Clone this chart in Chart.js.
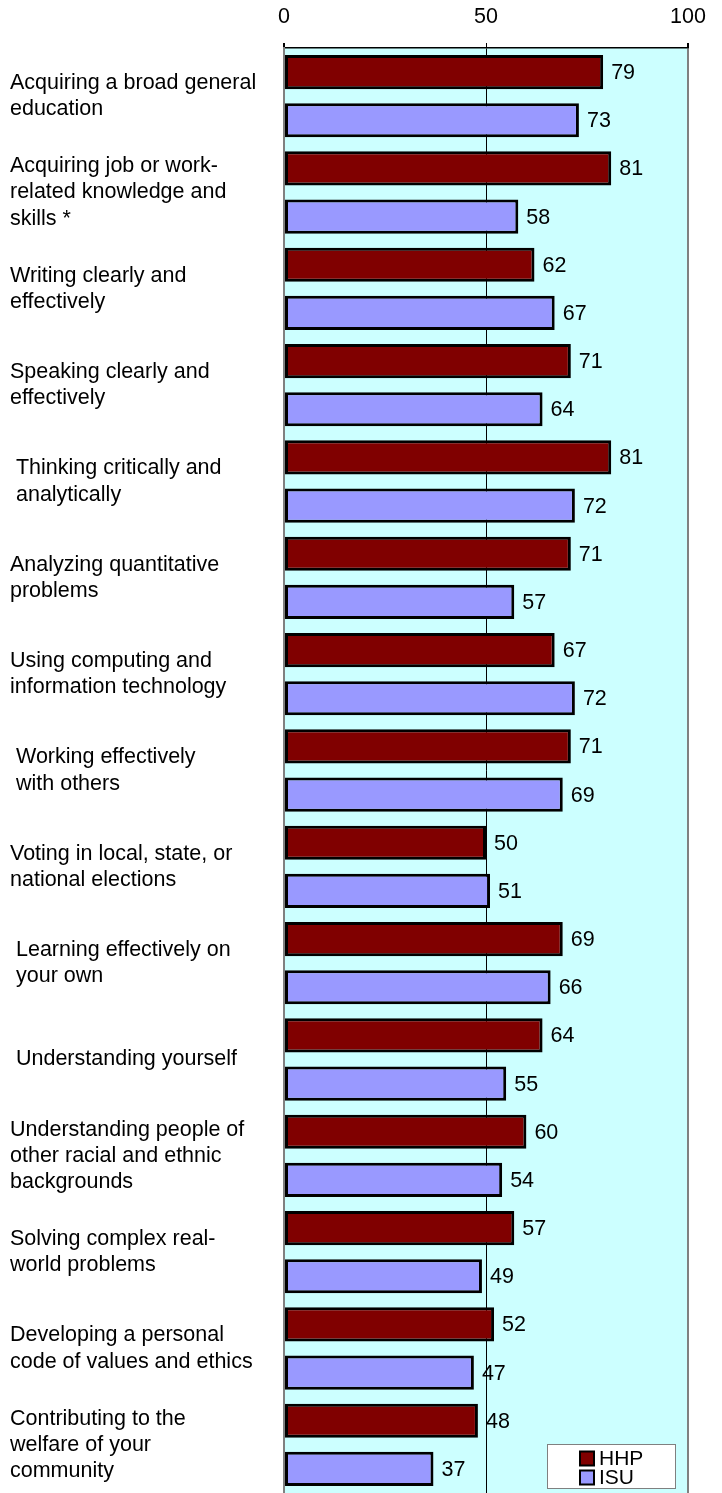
<!DOCTYPE html>
<html>
<head>
<meta charset="utf-8">
<script src="https://cdn.jsdelivr.net/npm/chart.js@4"></script>
<style>
  body { margin: 0; background: #ffffff; }
  #wrap { width: 722px; height: 1493px; position: relative; }
</style>
</head>
<body>
<div id="wrap"><canvas id="outcomes-chart"></canvas></div>
<script>
const categories = [
    ["Acquiring a broad general", "education"],
    ["Acquiring job or work-", "related knowledge and", "skills *"],
    ["Writing clearly and", "effectively"],
    ["Speaking clearly and", "effectively"],
    [" Thinking critically and", " analytically"],
    ["Analyzing quantitative", "problems"],
    ["Using computing and", "information technology"],
    [" Working effectively", " with others"],
    ["Voting in local, state, or", "national elections"],
    [" Learning effectively on", " your own"],
    [" Understanding yourself"],
    ["Understanding people of", "other racial and ethnic", "backgrounds"],
    ["Solving complex real-", "world problems"],
    ["Developing a personal", "code of values and ethics"],
    ["Contributing to the", "welfare of your", "community"]
]
const hhpValues = [79, 81, 62, 71, 81, 71, 67, 71, 50, 69, 64, 60, 57, 52, 48]
const isuValues = [73, 58, 67, 64, 72, 57, 72, 69, 51, 66, 55, 54, 49, 47, 37]
const xTicks = [0, 50, 100]

const fontFamily = "Arial, 'Liberation Sans', sans-serif"
const fontSize = 21.5

// cyan plot background
const plotBackground = {
    id: 'plotBackground',
    beforeDraw(chart) {
        const {ctx, chartArea} = chart
        ctx.save()
        ctx.fillStyle = '#ccffff'
        ctx.fillRect(chartArea.left, chartArea.top, chartArea.right - chartArea.left, chartArea.bottom - chartArea.top)
        ctx.restore()
    }
}

// numbers at the end of each bar
const valueLabels = {
    id: 'valueLabels',
    afterDatasetsDraw(chart) {
        const {ctx} = chart
        ctx.save()
        ctx.font = fontSize + 'px ' + fontFamily
        ctx.fillStyle = '#000000'
        ctx.textAlign = 'left'
        ctx.textBaseline = 'middle'
        chart.data.datasets.forEach((ds, i) => {
            chart.getDatasetMeta(i).data.forEach((bar, j) => {
                ctx.fillText(ds.data[j], bar.x + 8, bar.y + 1)
            })
        })
        ctx.restore()
    }
}

// boxed legend in the lower right corner of the plot
const boxLegend = {
    id: 'boxLegend',
    afterDraw(chart) {
        const {ctx, chartArea} = chart
        const w = 128, h = 44
        const x = chartArea.right - 13 - w
        const y = chartArea.bottom - 5 - h
        ctx.save()
        ctx.fillStyle = '#ffffff'
        ctx.fillRect(x, y, w, h)
        ctx.strokeStyle = '#808080'
        ctx.lineWidth = 1
        ctx.strokeRect(x + 0.5, y + 0.5, w, h)
        ctx.font = '21px ' + fontFamily
        ctx.textBaseline = 'middle'
        chart.data.datasets.forEach((ds, i) => {
            const rowY = y + 14.5 + i * 19
            ctx.fillStyle = ds.backgroundColor
            ctx.fillRect(x + 33, rowY - 7, 14, 14)
            ctx.strokeStyle = '#000000'
            ctx.lineWidth = 2
            ctx.strokeRect(x + 33, rowY - 7, 14, 14)
            ctx.fillStyle = '#000000'
            ctx.fillText(ds.label, x + 52, rowY + 1)
        })
        ctx.restore()
    }
}

let outcomesChart = new Chart(document.getElementById("outcomes-chart"), {
    type: 'bar',
    data: {
        labels: categories,
        datasets: [
            {
                label: 'HHP',
                backgroundColor: '#800000',
                borderColor: '#000000',
                borderWidth: 3,
                borderSkipped: false,
                data: hhpValues
            },
            {
                label: 'ISU',
                backgroundColor: '#9999ff',
                borderColor: '#000000',
                borderWidth: 3,
                borderSkipped: false,
                data: isuValues
            }
        ]
    },
    options: {
        indexAxis: 'y',
        responsive: true,
        maintainAspectRatio: false,
        animation: false,
        categoryPercentage: 1,
        barPercentage: 0.71,
        layout: {
            padding: {top: 0, right: 34, bottom: 0, left: 10}
        },
        plugins: {
            legend: {display: false},
            tooltip: {enabled: false}
        },
        scales: {
            x: {
                position: 'top',
                min: 0,
                max: 100,
                afterBuildTicks: (scale) => {
                    scale.ticks = xTicks.map(v => ({value: v}))
                },
                afterFit: (scale) => {
                    scale.height = 48
                    scale.paddingLeft = 0
                    scale.paddingRight = 0
                },
                ticks: {
                    color: '#000000',
                    padding: 13,
                    font: {size: fontSize, family: fontFamily}
                },
                grid: {
                    color: (ctx) => ctx.tick && ctx.tick.value === 50 ? '#000000' : '#808080',
                    lineWidth: (ctx) => ctx.tick && ctx.tick.value === 50 ? 1 : 2,
                    tickColor: '#000000',
                    tickLength: 5
                },
                border: {
                    display: true,
                    color: '#000000',
                    width: 1.5
                }
            },
            y: {
                afterFit: (scale) => {
                    scale.width = 274
                    scale.paddingTop = 0
                    scale.paddingBottom = 0
                },
                ticks: {
                    color: '#000000',
                    crossAlign: 'far',
                    font: {size: fontSize, family: fontFamily, lineHeight: 1.22}
                },
                grid: {
                    display: false
                },
                border: {
                    display: true,
                    color: '#808080',
                    width: 2
                }
            }
        }
    },
    plugins: [plotBackground, valueLabels, boxLegend]
})
</script>
</body>
</html>
